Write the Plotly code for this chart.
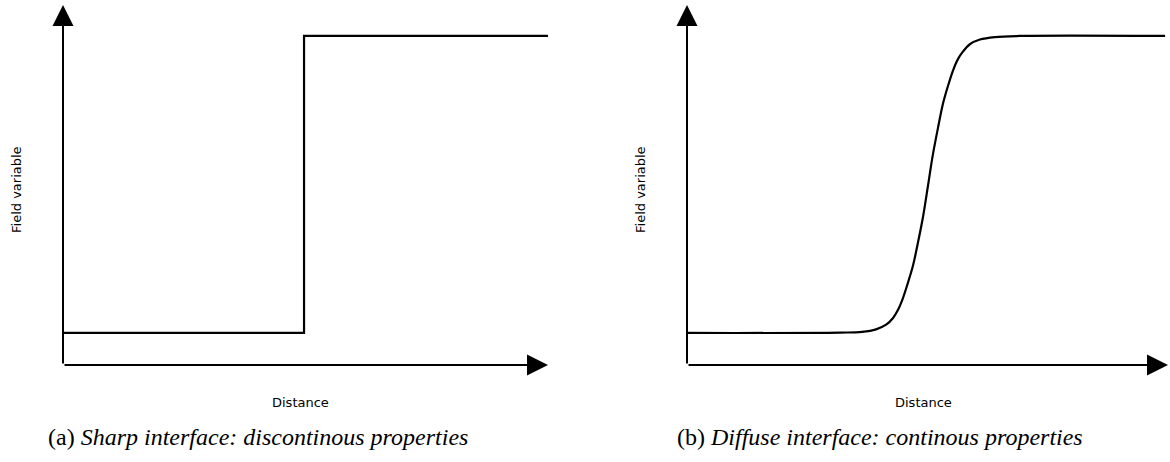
import plotly.graph_objects as go

W, H = 1170, 462

# ---- data (axis units: both axes run 0..10, arrow tip at 10) ----
sharp_x = [0.0, 4.97, 4.97, 10.0]
sharp_y = [0.89, 0.89, 9.14, 9.14]

diffuse_x = [0.0, 3.18, 3.64, 3.93, 4.14, 4.28, 4.39, 4.49, 4.59, 4.70, 4.80,
             4.91, 5.01, 5.11, 5.22, 5.32, 5.43, 5.53, 5.63, 5.74, 5.88, 6.09,
             6.40, 6.92, 9.94]
diffuse_y = [0.89, 0.90, 0.92, 0.99, 1.12, 1.30, 1.54, 1.86, 2.27, 2.77, 3.39,
             4.14, 4.98, 5.83, 6.60, 7.25, 7.77, 8.18, 8.49, 8.71, 8.91, 9.04,
             9.11, 9.14, 9.14]

x_label = "Distance"
y_label = "Field variable"
captions = ["(a) <i>Sharp interface: discontinous properties</i>",
            "(b) <i>Diffuse interface: continous properties</i>"]


def px(x):
    return x / W


def py(y):
    return 1 - y / H


fig = go.Figure()
fig.add_trace(go.Scatter(x=sharp_x, y=sharp_y, mode="lines",
                         line=dict(color="black", width=2.2),
                         xaxis="x", yaxis="y", showlegend=False, hoverinfo="skip"))
fig.add_trace(go.Scatter(x=diffuse_x, y=diffuse_y, mode="lines",
                         line=dict(color="black", width=2.2, shape="spline", smoothing=1.0),
                         xaxis="x2", yaxis="y2", showlegend=False, hoverinfo="skip"))

hidden = dict(visible=False, range=[0, 10], fixedrange=True)
y_dom = [py(365), py(5)]
fig.update_layout(
    width=W, height=H,
    margin=dict(l=0, r=0, t=0, b=0),
    paper_bgcolor="white", plot_bgcolor="white",
    xaxis=dict(domain=[px(63), px(548)], anchor="y", **hidden),
    yaxis=dict(domain=y_dom, anchor="x", **hidden),
    xaxis2=dict(domain=[px(687), px(1168)], anchor="y2", **hidden),
    yaxis2=dict(domain=y_dom, anchor="x2", **hidden),
)

annos = []
for xa, ya in [("x", "y"), ("x2", "y2")]:
    annos.append(dict(x=0, y=10, ax=0, ay=0, xref=xa, yref=ya, axref=xa, ayref=ya,
                      showarrow=True, arrowhead=2, arrowsize=2.1, arrowwidth=2,
                      arrowcolor="black", text="", standoff=0))
    annos.append(dict(x=10, y=0, ax=0, ay=0, xref=xa, yref=ya, axref=xa, ayref=ya,
                      showarrow=True, arrowhead=2, arrowsize=2.1, arrowwidth=2,
                      arrowcolor="black", text="", standoff=0))

label_font = dict(family="DejaVu Sans", size=13, color="black")
for cx, fx in [(300, 17), (923.5, 641)]:
    annos.append(dict(x=px(cx), y=py(402), xref="paper", yref="paper",
                      text=x_label, showarrow=False, font=label_font,
                      xanchor="center", yanchor="middle"))
    annos.append(dict(x=px(fx), y=py(190), xref="paper", yref="paper",
                      text=y_label, showarrow=False, font=label_font, textangle=-90,
                      xanchor="center", yanchor="middle"))

cap_font = dict(family="Liberation Serif", size=24, color="black")
for cx, txt in [(258, captions[0]), (880, captions[1])]:
    annos.append(dict(x=px(cx), y=py(437), xref="paper", yref="paper",
                      text=txt, showarrow=False, font=cap_font,
                      xanchor="center", yanchor="middle"))

fig.update_layout(annotations=annos)
fig.write_html("out.html", config={"displayModeBar": False, "staticPlot": True},
               post_script="document.body.style.margin='0';document.body.style.overflow='hidden';")
